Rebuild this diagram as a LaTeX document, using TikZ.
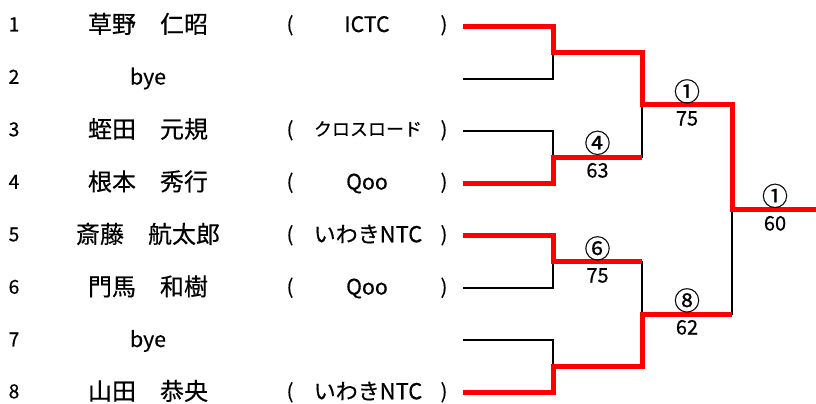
\documentclass[tikz,border=0pt]{standalone}
\usepackage{fontspec}
\newfontfamily\jp[FakeBold=0.4]{Noto Sans CJK JP}
\begin{document}
\begin{tikzpicture}[x=0.75pt,y=-0.75pt,
  lbl/.style={inner sep=0pt, outer sep=0pt, anchor=center, text depth=0pt},
  idx/.style={lbl, font=\jp\fontsize{14.5}{14.5}\selectfont, text height=10.9pt},
  pname/.style={lbl, font=\jp\fontsize{18}{18}\selectfont, text height=13.5pt},
  bye/.style={lbl, font=\jp\fontsize{16}{16}\selectfont, text height=12pt},
  paren/.style={lbl, font=\jp\fontsize{15}{15}\selectfont, text height=11.25pt},
  team/.style={lbl, font=\jp\fontsize{16.5}{16.5}\selectfont, text height=12.4pt},
  teamsm/.style={lbl, font=\jp\fontsize{13.5}{13.5}\selectfont, text height=10.1pt},
  circ/.style={lbl, font=\jp\fontsize{19.5}{19.5}\selectfont, text height=14.6pt},
  score/.style={lbl, font=\jp\fontsize{15}{15}\selectfont, text height=11.25pt},
  wire/.style={draw=black, line width=1.5pt},
  win/.style={draw=red, line width=3.75pt, line join=miter}]
\useasboundingbox (0,0) rectangle (816,403);

% row texts
\node[idx] (n1) at (14,24) {1};
\node[idx] (n2) at (14,76.5) {2};
\node[idx] (n3) at (14,129) {3};
\node[idx] (n4) at (14,181.5) {4};
\node[idx] (n5) at (14,234) {5};
\node[idx] (n6) at (14,286.5) {6};
\node[idx] (n7) at (14,339) {7};
\node[idx] (n8) at (14,391) {8};

\node[pname] (p1) at (148,24) {草野　仁昭};
\node[bye]   (p2) at (148,76.5) {bye};
\node[pname] (p3) at (148,129) {蛭田　元規};
\node[pname] (p4) at (148,181.5) {根本　秀行};
\node[pname] (p5) at (148,234) {斎藤　航太郎};
\node[pname] (p6) at (148,286.5) {門馬　和樹};
\node[bye]   (p7) at (148,339) {bye};
\node[pname] (p8) at (148,391) {山田　恭央};

\foreach \r/\yy in {1/24,3/129,4/181.5,5/234,6/286.5,8/391}{
  \node[paren] (l\r) at (290,\yy) {(};
  \node[paren] (r\r) at (444,\yy) {)};
}
\node[bye]    (t1) at (367,24) {ICTC};
\node[teamsm] (t3) at (368,129) {クロスロード};
\node[bye]    (t4) at (367,181.5) {Qoo};
\node[team]   (t5) at (368,234) {いわきNTC};
\node[bye]    (t6) at (367,286.5) {Qoo};
\node[team]   (t8) at (368,391) {いわきNTC};

% bracket coordinates
\coordinate (e1) at (463,26.5);
\coordinate (e2) at (463,78.8);
\coordinate (e3) at (463,131.1);
\coordinate (e4) at (463,183.4);
\coordinate (e5) at (463,235.7);
\coordinate (e6) at (463,288);
\coordinate (e7) at (463,340.3);
\coordinate (e8) at (463,392.6);
\coordinate (a12) at (553,52.65);
\coordinate (a34) at (553,157.25);
\coordinate (a56) at (553,261.85);
\coordinate (a78) at (553,366.45);
\coordinate (s1) at (642,104.95);
\coordinate (s2) at (642,314.15);
\coordinate (f) at (732,209.55);
\coordinate (w) at (816,209.55);

% black bracket
\draw[wire] (e1) -| (a12) |- (e2);
\draw[wire] (e3) -| (a34) |- (e4);
\draw[wire] (e5) -| (a56) |- (e6);
\draw[wire] (e7) -| (a78) |- (e8);
\draw[wire] (a12) -| (s1);
\draw[wire] (a34) -| (s1);
\draw[wire] (a56) -| (s2);
\draw[wire] (a78) -| (s2);
\draw[wire] (s1) -| (f);
\draw[wire] (s2) -| (f);
\draw[wire] (f) -- (w);

% winners in red
\draw[win] (e1) -| (a12) -| (s1) -| (f) -- (w);
\draw[win] (e4) -| (a34) -- (a34 -| s1);
\draw[win] (e5) -| (a56) -- (a56 -| s2);
\draw[win] (e8) -| (a78) -| (s2) -- (s2 -| f);

% results
\node[circ]  (c34) at (597.5,143) {④};
\node[score] (g34) at (597.5,170) {63};
\node[circ]  (c56) at (597.5,248.5) {⑥};
\node[score] (g56) at (597.5,275) {75};
\node[circ]  (cs1) at (687,91.5) {①};
\node[score] (gs1) at (687,118) {75};
\node[circ]  (cs2) at (687,300.5) {⑧};
\node[score] (gs2) at (687,327) {62};
\node[circ]  (cf) at (775,196) {①};
\node[score] (gf) at (775,223) {60};
\end{tikzpicture}
\end{document}
